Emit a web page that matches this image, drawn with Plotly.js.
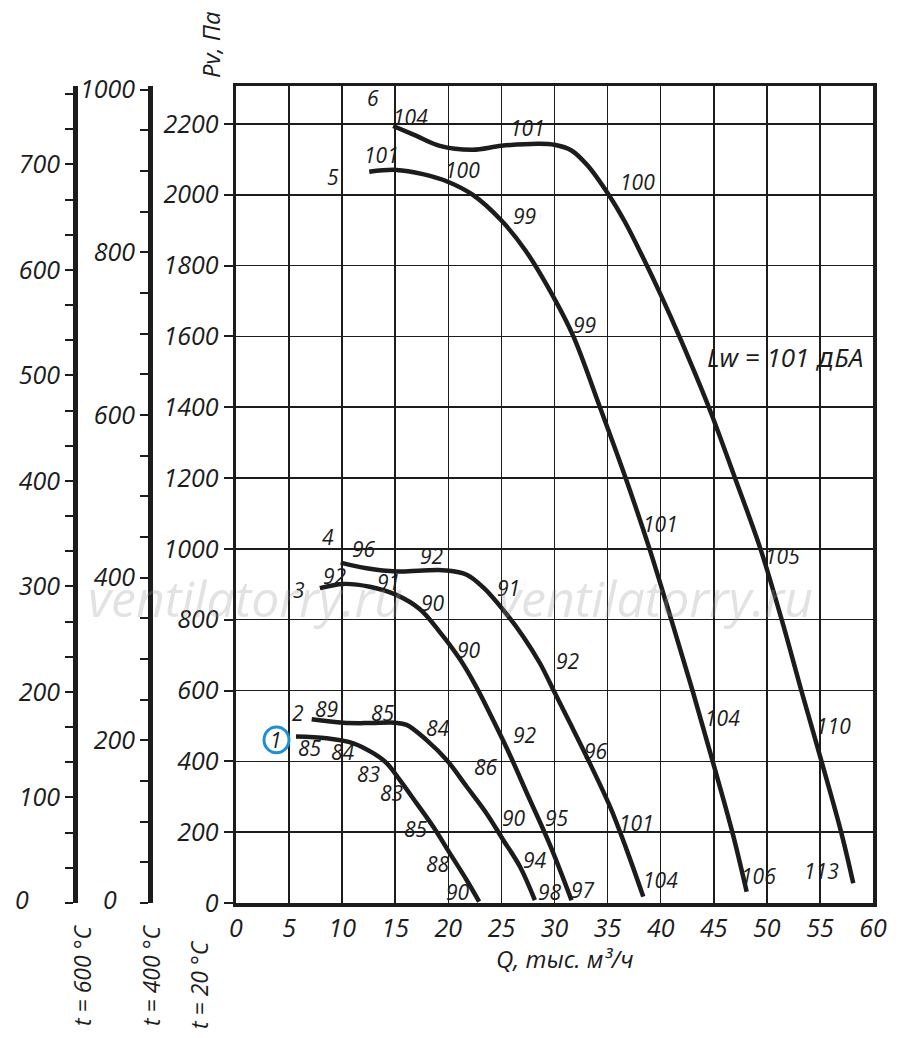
<!DOCTYPE html>
<html>
<head>
<meta charset="utf-8">
<script src="https://cdn.plot.ly/plotly-3.0.1.min.js"></script>
<style>
  html, body { margin: 0; padding: 0; background: #fff; }
  #chart { width: 900px; height: 1038px; }
</style>
</head>
<body>
<div id="chart"></div>
<script>
// ---- Data: Q (thousand m3/h) vs Pv (Pa) at t = 20 °C ----
const q1 = [5.65, 8.54, 11.05, 12.93, 14.19, 15.44, 17.0, 18.58, 20.15, 21.72, 22.9];
const p1 = [470, 465, 451, 423, 395, 347, 282, 215, 140, 65, 4];

const q2 = [7.13, 10.1, 12.6, 14.97, 16.07, 17.95, 19.84, 21.72, 23.6, 25.17, 26.74, 28.15];
const p2 = [519, 509, 508, 509, 503, 460, 404, 329, 253, 178, 103, 8];

const q3 = [7.9, 10.1, 12.6, 15.1, 17.3, 19.2, 21.1, 22.67, 24.24, 25.8, 27.4, 29.6, 31.6];
const p3 = [889, 901, 893, 870, 830, 765, 688, 608, 515, 418, 310, 162, 8];

const q4 = [9.86, 12.3, 15.1, 17.6, 19.85, 21.73, 23.29, 25.18, 27.06, 28.63, 30.05, 31.46, 33.03, 35.23, 36.8, 38.36];
const p4 = [961, 945, 936, 939, 939, 927, 891, 827, 752, 677, 592, 508, 413, 272, 150, 18];

const q5 = [12.55, 15.1, 17.6, 20.0, 22.28, 25.0, 27.28, 30.0, 31.78, 34.28, 36.7, 38.95, 41.0, 43.0, 44.9, 46.75, 48.1];
const p5 = [2065, 2070, 2058, 2036, 2000, 1927, 1842, 1706, 1600, 1400, 1200, 1000, 800, 600, 400, 200, 32];

const q6 = [14.8, 17.0, 19.2, 22.28, 25.0, 28.5, 30.0, 31.6, 33.1, 35.1, 36.6, 38.3, 40.0, 41.9, 44.6, 47.0, 49.4, 51.4, 53.25, 55.15, 57.0, 58.14];
const p6 = [2194, 2166, 2138, 2127, 2138, 2144, 2141, 2125, 2083, 2000, 1925, 1825, 1718, 1590, 1395, 1200, 1000, 800, 600, 400, 200, 56];

// ---- Point labels along curves (sound power, dBA) and curve numbers ----
const labelText = [
  "85","84","83","83","85","88","90",
  "2","89","85","84","86","90","94","98",
  "3","92","91","90","90","92","95","97",
  "4","96","92","91","92","96","101","104",
  "5","101","100","99","99","101","104","106",
  "6","104","101","100","105","110","113"
];
const labelQ = [
  6.97,10.08,12.53,14.69,16.95,19.03,20.91,
  5.84,8.48,13.85,19.03,23.55,26.18,28.16,29.58,
  5.93,9.32,14.41,18.56,21.95,27.22,30.23,32.68,
  8.67,12.06,18.46,25.71,31.27,33.91,37.77,40.03,
  9.14,13.66,21.29,27.22,32.78,39.94,45.78,49.17,
  12.9,16.48,27.5,37.86,51.43,56.3,55.17
];
const labelP = [
  438,426,364,311,209,110,31,
  537,548,537,494,384,240,121,31,
  884,923,906,847,714,474,240,37,
  1034,1000,980,890,683,429,226,65,
  2050,2112,2070,1940,1632,1070,522,76,
  2273,2219,2188,2036,980,500,90
];

// ---- Axes ----
const qTicks = [0,5,10,15,20,25,30,35,40,45,50,55,60];
const p20Ticks = [0,200,400,600,800,1000,1200,1400,1600,1800,2000,2200];
const p400Ticks = [0,200,400,600,800,1000];
const p600Ticks = [0,100,200,300,400,500,600,700];

const P20_MAX = 2307;
const K400 = 293 / 673;   // density ratio 20°C -> 400°C
const K600 = 293 / 873;   // density ratio 20°C -> 600°C

const ink = '#1c1c1c';
const fontFam = '"Open Sans", "DejaVu Sans", sans-serif';
const tickFont = {family: fontFam, size: 25, color: ink, style: 'italic'};
const labFont = {family: fontFam, size: 21, color: ink, style: 'italic'};

const curves = [[q1,p1],[q2,p2],[q3,p3],[q4,p4],[q5,p5],[q6,p6]];
const traces = curves.map(c => ({
  x: c[0], y: c[1], type: 'scatter', mode: 'lines',
  line: {color: ink, width: 4.5, shape: 'spline', smoothing: 1},
  hoverinfo: 'skip', showlegend: false
}));
traces.push({x:[null], y:[null], yaxis:'y2', type:'scatter', mode:'lines', showlegend:false, hoverinfo:'skip'});
traces.push({x:[null], y:[null], yaxis:'y3', type:'scatter', mode:'lines', showlegend:false, hoverinfo:'skip'});

const annotations = labelText.map((t, i) => ({
  x: labelQ[i], y: labelP[i], xref: 'x', yref: 'y', text: t, showarrow: false,
  xanchor: 'center', yanchor: 'middle', font: labFont
}));

const paperX = px => (px - 10) / 863;
const paperY = py => (903 - py) / 817;
const wmFont = {family: fontFam, size: 50, color: 'rgba(150,150,150,0.28)', style: 'italic'};

function pAnn(px, py, text, font, angle) {
  return {x: paperX(px), y: paperY(py), xref: 'paper', yref: 'paper', text: text,
          showarrow: false, xanchor: 'center', yanchor: 'middle', textangle: angle || 0, font: font};
}
const titleFont = {family: fontFam, size: 24, color: ink, style: 'italic'};
const tFont = {family: fontFam, size: 23, color: ink, style: 'italic'};

annotations.push(
  {x: 51.71, y: 1542, xref:'x', yref:'y',
   text:'Lw = 101 <span style="font-family:\'DejaVu Sans\'">д</span>БА', showarrow:false,
   xanchor:'center', yanchor:'middle',
   font:{family: fontFam, size: 26, color: ink, style:'italic'}},
  pAnn(211, 45, 'Pv, Па', titleFont, -90),
  pAnn(565, 958, 'Q, тыс. м³/ч', titleFont, 0),
  pAnn(82, 975, 't = 600 °C', tFont, -90),
  pAnn(151, 975, 't = 400 °C', tFont, -90),
  pAnn(199, 985, 't = 20 °C', tFont, -90),
  pAnn(22, 899, '0', tickFont, 0),
  pAnn(110, 899, '0', tickFont, 0),
  pAnn(245, 598, 'ventilatorry.ru', wmFont, 0),
  pAnn(655, 598, 'ventilatorry.ru', wmFont, 0),
  {x: 3.77, y: 460, xref:'x', yref:'y', text:'1', showarrow:false,
   xanchor:'center', yanchor:'middle', font: labFont}
);

const layout = {
  width: 900, height: 1038,
  margin: {l: 10, r: 27, t: 86, b: 135},
  paper_bgcolor: '#fff', plot_bgcolor: '#fff',
  showlegend: false,
  xaxis: {
    domain: [paperX(236), 1], range: [0, 60],
    tickmode: 'array', tickvals: qTicks, ticktext: qTicks.map(String),
    ticks: '', tickfont: tickFont,
    showgrid: true, gridcolor: ink, gridwidth: 1.6,
    showline: true, linecolor: ink, linewidth: 3.5, mirror: true,
    zeroline: false, fixedrange: true
  },
  yaxis: {
    range: [0, P20_MAX],
    tickmode: 'array', tickvals: p20Ticks, ticktext: p20Ticks.map(String),
    ticks: 'outside', ticklen: 9, tickwidth: 2, tickcolor: ink,
    tickfont: tickFont,
    showgrid: true, gridcolor: ink, gridwidth: 1.6,
    showline: true, linecolor: ink, linewidth: 3.5, mirror: true,
    zeroline: false, fixedrange: true
  },
  yaxis2: {
    overlaying: 'y', anchor: 'free', side: 'left', position: paperX(150),
    range: [0, P20_MAX * K400],
    tickmode: 'array', tickvals: p400Ticks, ticktext: p400Ticks.map(v => v === 0 ? '' : String(v)),
    ticks: 'outside', ticklen: 8, tickwidth: 2, tickcolor: ink,
    minor: {tickmode: 'linear', tick0: 0, dtick: 50, ticks: 'outside', ticklen: 8, tickwidth: 2, tickcolor: ink, showgrid: false},
    tickfont: tickFont,
    showgrid: false, showline: true, linecolor: ink, linewidth: 4.5,
    zeroline: false, fixedrange: true
  },
  yaxis3: {
    overlaying: 'y', anchor: 'free', side: 'left', position: paperX(75),
    range: [0, P20_MAX * K600],
    tickmode: 'array', tickvals: p600Ticks, ticktext: p600Ticks.map(v => v === 0 ? '' : String(v)),
    ticks: 'outside', ticklen: 8, tickwidth: 2, tickcolor: ink,
    minor: {tickmode: 'linear', tick0: 0, dtick: 100/3, ticks: 'outside', ticklen: 8, tickwidth: 2, tickcolor: ink, showgrid: false},
    tickfont: tickFont,
    showgrid: false, showline: true, linecolor: ink, linewidth: 4.5,
    zeroline: false, fixedrange: true
  },
  shapes: [
    {type: 'circle', xref: 'x', yref: 'y', x0: 2.64, x1: 4.99, y0: 424, y1: 497,
     line: {color: '#1e8fd6', width: 3}, fillcolor: 'rgba(0,0,0,0)'}
  ],
  annotations: annotations
};

Plotly.newPlot('chart', traces, layout, {staticPlot: true, displayModeBar: false});
</script>
</body>
</html>
